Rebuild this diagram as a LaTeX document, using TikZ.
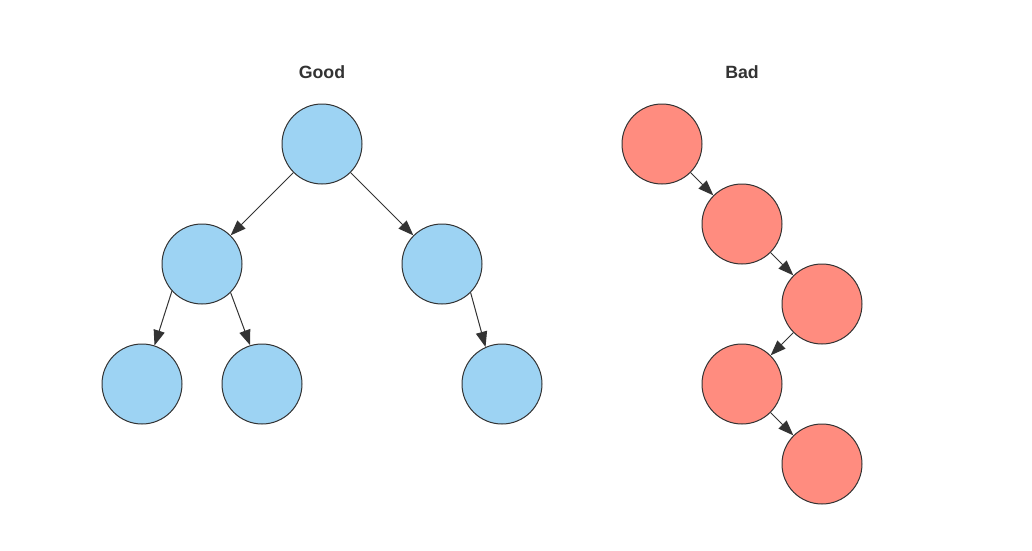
\documentclass[tikz,border=0pt]{standalone}
\usepackage{fontspec}
\setmainfont{Liberation Sans}
\usetikzlibrary{arrows.meta}
\definecolor{goodblue}{RGB}{157,211,243}
\definecolor{badred}{RGB}{255,140,127}
\definecolor{edgegray}{RGB}{51,51,51}
\tikzset{
    treenode/.style={circle, draw=edgegray, line width=0.75pt, minimum size=60pt, inner sep=0pt},
    goodnode/.style={treenode, fill=goodblue},
    badnode/.style={treenode, fill=badred},
    link/.style={draw=edgegray, line width=0.75pt, -{Triangle[length=11.5pt,width=8.5pt]}},
    title/.style={font=\fontsize{13.3}{16}\selectfont\bfseries, text=edgegray}
}

\begin{document}
\begin{tikzpicture}[x=0.75pt, y=-0.75pt]
    \useasboundingbox (0,0) rectangle (1032,550);

    % Good: balanced tree
    \node[title] (goodtitle) at (322,72) {Good};
    \node[goodnode] (g1) at (322,144) {};
    \node[goodnode] (g2) at (202,264) {};
    \node[goodnode] (g3) at (442,264) {};
    \node[goodnode] (g4) at (142,384) {};
    \node[goodnode] (g5) at (262,384) {};
    \node[goodnode] (g6) at (502,384) {};
    \foreach \a/\b in {g1/g2, g1/g3, g2.222/g4.72, g2.315/g5.107, g3.315/g6.114} {
        \draw[link] (\a) -- (\b);
    }

    % Bad: degenerate tree
    \node[title] (badtitle) at (742,72) {Bad};
    \node[badnode] (b1) at (662,144) {};
    \node[badnode] (b2) at (742,224) {};
    \node[badnode] (b3) at (822,304) {};
    \node[badnode] (b4) at (742,384) {};
    \node[badnode] (b5) at (822,464) {};
    \foreach \a/\b in {b1/b2, b2/b3, b3/b4, b4/b5} {
        \draw[link] (\a) -- (\b);
    }
\end{tikzpicture}
\end{document}
